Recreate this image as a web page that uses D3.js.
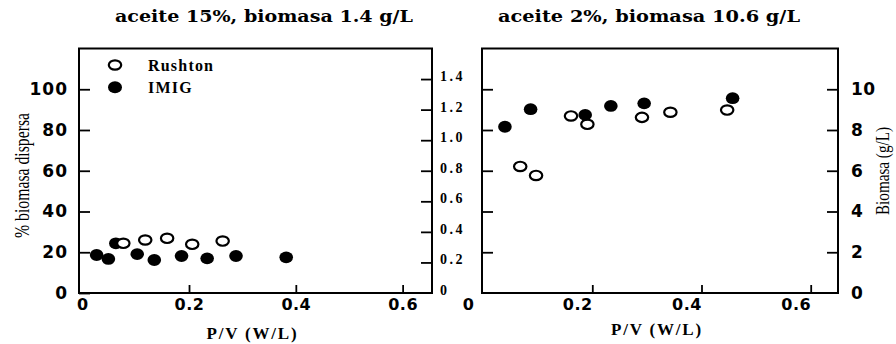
<!DOCTYPE html>
<html>
<head>
<meta charset="utf-8">
<script src="https://cdn.jsdelivr.net/npm/d3@7"></script>
<style>
    body { margin: 0; background: #fff; }
</style>
</head>
<body>
<svg width="896" height="344"></svg>
<script>
// Left panel: aceite 15%, biomasa 1.4 g/L  (% biomasa dispersa)
const leftRushtonX = [0.077, 0.118, 0.159, 0.206, 0.263];
const leftRushtonY = [24.4, 26.0, 26.85, 23.9, 25.5];
const leftImigX = [0.027, 0.049, 0.063, 0.103, 0.135, 0.186, 0.234, 0.288, 0.382];
const leftImigY = [18.65, 16.7, 24.4, 19.1, 16.2, 18.15, 17.0, 18.15, 17.5];

// Right panel: aceite 2%, biomasa 10.6 g/L  (Biomasa g/L)
const rightRushtonX = [0.068, 0.097, 0.161, 0.191, 0.291, 0.343, 0.447];
const rightRushtonY = [6.21, 5.77, 8.69, 8.28, 8.62, 8.87, 8.98];
const rightImigX = [0.040, 0.087, 0.187, 0.234, 0.295, 0.457];
const rightImigY = [8.16, 9.02, 8.74, 9.18, 9.31, 9.56];

const titles = ["aceite 15%, biomasa 1.4 g/L", "aceite 2%, biomasa 10.6 g/L"];
const legendLabels = ["Rushton", "IMIG"];
const xTicks = [0, 0.2, 0.4, 0.6];
const pctTicks = [0, 20, 40, 60, 80, 100];
const ratioTicks = [0, 0.2, 0.4, 0.6, 0.8, 1.0, 1.2, 1.4];
const gTicks = [0, 2, 4, 6, 8, 10];

const sansFont = "'DejaVu Sans', sans-serif";
const serifFont = "'Liberation Serif', 'Times New Roman', serif";
const titleFont = "'DejaVu Serif', serif";

const svg = d3.select("svg");
const top_ = 48.5, bottom = 293;

const yPct = d3.scaleLinear().domain([0, 120]).range([bottom, top_]);
const yRatio = d3.scaleLinear().domain([0, 1.6]).range([bottom, top_]);
const yG = d3.scaleLinear().domain([0, 12]).range([bottom, top_]);

const panels = [
    {
        x: d3.scaleLinear().domain([-0.006, 0.655]).range([79, 432]),
        title: titles[0],
        titleX: 264,
        titleLen: 298,
        rushton: d3.zip(leftRushtonX, leftRushtonY),
        imig: d3.zip(leftImigX, leftImigY),
        y: yPct,
        openOnTop: true,
        labelShift: 0,
        xTitleY: 338.5,
    },
    {
        x: d3.scaleLinear().domain([-0.002, 0.65]).range([482, 838]),
        title: titles[1],
        titleX: 649,
        titleLen: 302,
        rushton: d3.zip(rightRushtonX, rightRushtonY),
        imig: d3.zip(rightImigX, rightImigY),
        y: yG,
        openOnTop: false,
        labelShift: -15,
        xTitleY: 334.5,
    },
];

function styleAxis(g, font, size, weight, spacing) {
    g.select(".domain").remove();
    g.selectAll(".tick line").attr("stroke", "#000").attr("stroke-width", 1.8);
    g.selectAll(".tick text")
        .attr("fill", "#000")
        .style("font-family", font)
        .style("font-size", size + "px")
        .style("font-weight", weight)
        .style("letter-spacing", spacing + "px");
}

function drawPanel(p, i) {
    const [x0, x1] = p.x.range();
    const g = svg.append("g").classed("panel-" + i, true);

    // title
    g.append("text")
        .attr("x", p.titleX)
        .attr("y", 22)
        .attr("text-anchor", "middle")
        .attr("textLength", p.titleLen)
        .attr("lengthAdjust", "spacingAndGlyphs")
        .style("font-family", titleFont)
        .style("font-size", "17px")
        .style("font-weight", "bold")
        .text(p.title);

    // frame
    g.append("rect")
        .attr("x", x0)
        .attr("y", top_)
        .attr("width", x1 - x0)
        .attr("height", bottom - top_)
        .attr("fill", "none")
        .attr("stroke", "#000")
        .attr("stroke-width", 2);

    // x axis
    const xAxis = g.append("g")
        .attr("transform", `translate(0,${bottom})`)
        .call(d3.axisBottom(p.x).tickValues(xTicks).tickSize(-8).tickPadding(6)
            .tickFormat((d) => (d === 0 ? "0" : d3.format(".1f")(d))));
    styleAxis(xAxis, sansFont, 16, "bold", 0.5);
    xAxis.selectAll(".tick").filter((d) => d === 0).select("line").remove();
    xAxis.selectAll(".tick text").attr("dx", p.labelShift);

    g.append("text")
        .attr("x", (x0 + x1) / 2 - 3)
        .attr("y", p.xTitleY)
        .attr("text-anchor", "middle")
        .style("font-family", serifFont)
        .style("font-size", "17px")
        .style("font-weight", "bold")
        .style("letter-spacing", "1.8px")
        .text("P/V (W/L)");

    // points
    const openLayer = () => g.append("g")
        .selectAll("ellipse")
        .data(p.rushton)
        .enter()
        .append("ellipse")
        .attr("cx", (d) => p.x(d[0]))
        .attr("cy", (d) => p.y(d[1]))
        .attr("rx", 6.2)
        .attr("ry", 4.7)
        .attr("fill", "#fff")
        .attr("stroke", "#000")
        .attr("stroke-width", 2.2);
    const filledLayer = () => g.append("g")
        .selectAll("ellipse")
        .data(p.imig)
        .enter()
        .append("ellipse")
        .attr("cx", (d) => p.x(d[0]))
        .attr("cy", (d) => p.y(d[1]))
        .attr("rx", 6.8)
        .attr("ry", 5.9)
        .attr("fill", "#000");
    if (p.openOnTop) {
        filledLayer();
        openLayer();
    } else {
        openLayer();
        filledLayer();
    }
}

panels.forEach(drawPanel);

// left panel, left axis (% biomasa dispersa)
const leftAxis = svg.append("g")
    .attr("transform", "translate(79,0)")
    .call(d3.axisLeft(yPct).tickValues(pctTicks).tickSize(-11).tickPadding(11));
styleAxis(leftAxis, sansFont, 17, "bold", 1);

svg.append("text")
    .attr("transform", "translate(29,175.5) rotate(-90)")
    .attr("text-anchor", "middle")
    .attr("textLength", 125)
    .attr("lengthAdjust", "spacingAndGlyphs")
    .style("font-family", serifFont)
    .style("font-size", "22px")
    .text("% biomasa dispersa");

// left panel, right axis (0 - 1.4)
const ratioAxis = svg.append("g")
    .attr("transform", "translate(432,0)")
    .call(d3.axisRight(yRatio).tickValues(ratioTicks).tickSize(-11).tickPadding(8)
        .tickFormat((d) => (d === 0 ? "0" : d3.format(".1f")(d))));
styleAxis(ratioAxis, serifFont, 14, "bold", 2.5);
ratioAxis.selectAll(".tick").filter((d) => d === 0).select("line").remove();
ratioAxis.selectAll(".tick text").attr("dy", "0.1em");

// right panel, left axis ticks only
const innerAxis = svg.append("g")
    .attr("transform", "translate(482,0)")
    .call(d3.axisLeft(yPct).tickValues(pctTicks.slice(1)).tickSize(-11).tickFormat(""));
styleAxis(innerAxis, sansFont, 16, "bold", 0);

// right panel, right axis (Biomasa g/L)
const gAxis = svg.append("g")
    .attr("transform", "translate(838,0)")
    .call(d3.axisRight(yG).tickValues(gTicks).tickSize(-11).tickPadding(13));
styleAxis(gAxis, sansFont, 17, "bold", 0.5);
gAxis.selectAll(".tick").filter((d) => d === 0).select("line").remove();

svg.append("text")
    .attr("transform", "translate(889,171) rotate(-90)")
    .attr("text-anchor", "middle")
    .attr("textLength", 88)
    .attr("lengthAdjust", "spacingAndGlyphs")
    .style("font-family", serifFont)
    .style("font-size", "18px")
    .text("Biomasa (g/L)");

// legend (left panel)
const legend = svg.append("g").attr("transform", "translate(115,65)");
legend.append("ellipse")
    .attr("rx", 6.2).attr("ry", 4.7)
    .attr("fill", "#fff").attr("stroke", "#000").attr("stroke-width", 2.2);
legend.append("ellipse")
    .attr("cy", 22.3).attr("rx", 7).attr("ry", 6)
    .attr("fill", "#000");
legend.selectAll("text")
    .data(legendLabels)
    .enter()
    .append("text")
    .attr("x", 33)
    .attr("y", (d, i) => 5.5 + i * 22.3)
    .style("font-family", serifFont)
    .style("font-size", "16px")
    .style("font-weight", "bold")
    .style("letter-spacing", "1.2px")
    .text((d) => d);
</script>
</body>
</html>
